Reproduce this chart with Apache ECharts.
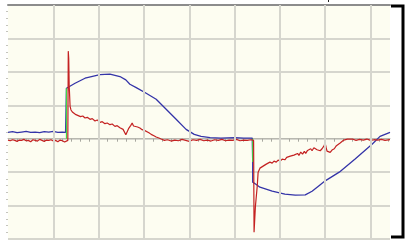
<!DOCTYPE html>
<html>
<head>
<meta charset="utf-8">
<script src="https://cdn.jsdelivr.net/npm/echarts@6/dist/echarts.min.js"></script>
<style>
  html, body { margin: 0; padding: 0; background: #fff; }
  #scope { width: 407px; height: 240px; }
</style>
</head>
<body>
<div id="scope"></div>
<script>
// screen units are divisions: x 0..8.43 div, y -3..4 div
const xRange = [0, 8.43];
const yRange = [-3, 4];
const xDivisions = [1, 2, 3, 4, 5, 6, 7, 8];

// channel A (blue) - [div, div]
const blueData = [
  [0, 0.19], [0.1, 0.21], [0.2, 0.18], [0.3, 0.2], [0.4, 0.22], [0.5, 0.19], [0.6, 0.2],
  [0.7, 0.18], [0.8, 0.21], [0.9, 0.2], [1.0, 0.22], [1.1, 0.19], [1.2, 0.2], [1.27, 0.19],
  [1.29, 1.51], [1.32, 1.51], [1.48, 1.66], [1.70, 1.81], [2.03, 1.92], [2.25, 1.93],
  [2.47, 1.86], [2.60, 1.76], [2.69, 1.63], [2.83, 1.53], [3.05, 1.36], [3.27, 1.18],
  [3.49, 0.88], [3.71, 0.58], [3.93, 0.28], [4.11, 0.13], [4.26, 0.07], [4.46, 0.03],
  [4.7, 0.02], [5.0, 0.03], [5.2, 0.02], [5.39, 0.02], [5.40, -0.70], [5.40, -1.30],
  [5.47, -1.36], [5.56, -1.45], [5.83, -1.57], [6.11, -1.66], [6.34, -1.69], [6.56, -1.68],
  [6.71, -1.57], [6.85, -1.42], [7.0, -1.26], [7.31, -1.0], [7.66, -0.61], [8.04, -0.16],
  [8.21, 0.07], [8.43, 0.19]
];

// channel B (red) - [div, div]
const redData = [
  [0, -0.04], [0.05, -0.06], [0.1, -0.03], [0.15, -0.05], [0.2, -0.08], [0.25, -0.04],
  [0.3, -0.05], [0.35, -0.02], [0.4, -0.06], [0.45, -0.05], [0.5, -0.09], [0.55, -0.03],
  [0.6, -0.05], [0.65, -0.07], [0.7, -0.02], [0.75, -0.05], [0.8, -0.08], [0.85, -0.04],
  [0.9, -0.05], [0.95, -0.03], [1.0, -0.07], [1.05, -0.05], [1.1, -0.09], [1.15, -0.04],
  [1.2, -0.06], [1.25, -0.1], [1.32, -0.05],
  [1.33, 2.62], [1.34, 2.4], [1.35, 1.6], [1.37, 0.97], [1.39, 0.86], [1.42, 0.80],
  [1.46, 0.75], [1.50, 0.72], [1.55, 0.69], [1.60, 0.66], [1.65, 0.68], [1.70, 0.62],
  [1.75, 0.64], [1.81, 0.58], [1.86, 0.6], [1.92, 0.53], [1.97, 0.56], [2.03, 0.49],
  [2.08, 0.51], [2.14, 0.45], [2.19, 0.47], [2.25, 0.42], [2.30, 0.44], [2.36, 0.37],
  [2.41, 0.39], [2.47, 0.33], [2.54, 0.28], [2.60, 0.12], [2.66, 0.30], [2.71, 0.40],
  [2.74, 0.47], [2.77, 0.38], [2.80, 0.43], [2.86, 0.35], [2.91, 0.32], [2.96, 0.27],
  [3.01, 0.25], [3.05, 0.21], [3.11, 0.18], [3.16, 0.13], [3.22, 0.09], [3.27, 0.05],
  [3.33, 0.02], [3.38, -0.01], [3.45, -0.05], [3.52, -0.03], [3.6, -0.07], [3.68, -0.04],
  [3.76, -0.06], [3.84, -0.02], [3.92, -0.05], [4.0, -0.08], [4.08, -0.03], [4.16, -0.05],
  [4.24, -0.02], [4.32, -0.06], [4.4, -0.04], [4.48, -0.07], [4.56, -0.03], [4.64, -0.05],
  [4.72, -0.02], [4.8, -0.06], [4.88, -0.04], [4.96, -0.05], [5.04, -0.02], [5.12, -0.06],
  [5.2, -0.04], [5.28, -0.05], [5.36, -0.03], [5.42, -0.05],
  [5.43, -2.80], [5.46, -2.02], [5.50, -1.42], [5.52, -1.00], [5.56, -0.88], [5.63, -0.82],
  [5.70, -0.76], [5.74, -0.79], [5.78, -0.70], [5.83, -0.73], [5.87, -0.67], [5.92, -0.70],
  [5.96, -0.64], [6.01, -0.67], [6.05, -0.61], [6.11, -0.63], [6.15, -0.56], [6.19, -0.60],
  [6.23, -0.52], [6.27, -0.57], [6.31, -0.49], [6.35, -0.53], [6.39, -0.44], [6.42, -0.50],
  [6.46, -0.40], [6.50, -0.46], [6.54, -0.38], [6.57, -0.44], [6.61, -0.35], [6.64, -0.40],
  [6.68, -0.30], [6.71, -0.36], [6.75, -0.27], [6.78, -0.24], [6.82, -0.33], [6.85, -0.28],
  [6.89, -0.36], [6.93, -0.30], [6.97, -0.22], [7.00, -0.14], [7.02, -0.26], [7.04, -0.37],
  [7.08, -0.32], [7.11, -0.41], [7.15, -0.34], [7.20, -0.30], [7.24, -0.22], [7.28, -0.20],
  [7.33, -0.13], [7.37, -0.09], [7.41, -0.04], [7.45, -0.06], [7.49, -0.01], [7.53, -0.03],
  [7.6, -0.01], [7.68, -0.05], [7.76, -0.02], [7.84, -0.04], [7.92, -0.01], [8.0, -0.05],
  [8.08, -0.03], [8.16, -0.04], [8.24, -0.02], [8.32, -0.05], [8.43, -0.03]
];

// channel C (green) edges
const greenRise = [[1.29, 0], [1.29, 1.51]];
const greenFall = [[5.40, 0], [5.40, -0.70]];

const gridColor = '#d6d6ce';

const composeOptions = () => {
  return {
    animation: false,
    backgroundColor: '#ffffff',
    grid: {
      left: 8, right: 17, top: 5, bottom: 1,
      show: false
    },
    xAxis: [
      {
        type: 'value',
        min: xRange[0],
        max: xRange[1],
        interval: 1,
        axisLine: { onZero: true, lineStyle: { color: '#b8b8b0', width: 1 } },
        axisTick: { show: false },
        minorTick: { show: true, splitNumber: 5, length: 3, lineStyle: { color: '#a8a8a0' } },
        axisLabel: { show: false },
        splitLine: { show: false }
      },
      {
        type: 'value',
        position: 'top',
        min: xRange[0],
        max: xRange[1],
        axisLine: { show: true, onZero: false, lineStyle: { color: '#8c8c8c', width: 2 } },
        axisTick: { show: false },
        axisLabel: { show: false },
        splitLine: { show: false }
      }
    ],
    yAxis: {
      type: 'value',
      min: yRange[0],
      max: yRange[1],
      interval: 1,
      axisLine: { show: false },
      axisTick: { show: false },
      minorTick: { show: true, splitNumber: 5, length: 2, lineStyle: { color: '#c4c4bc' } },
      axisLabel: { show: false },
      splitLine: { show: true, lineStyle: { color: gridColor, width: 2 } }
    },
    graphic: [
      {
        // screen background
        type: 'rect',
        z: -10,
        shape: { x: 8, y: 5, width: 382, height: 234 },
        style: { fill: '#fdfdf1' }
      },
      {
        type: 'polyline',
        shape: { points: [[391, 6], [403, 6], [403, 237], [391, 237]] },
        style: { stroke: '#000', lineWidth: 3, fill: null }
      },
      {
        type: 'text',
        left: 327,
        top: -8,
        style: { text: 'p', fontSize: 11, fontFamily: 'DejaVu Sans', fill: '#222' }
      }
    ],
    series: [
      {
        // vertical division lines
        type: 'line', data: [], z: 1, silent: true,
        markLine: {
          silent: true,
          symbol: 'none',
          label: { show: false },
          lineStyle: { color: gridColor, width: 2, type: 'solid' },
          data: xDivisions.map((v) => ({ xAxis: v }))
        }
      },
      {
        type: 'line', data: blueData, symbol: 'none', z: 2,
        lineStyle: { color: '#3434a8', width: 1.3 }
      },
      {
        type: 'line', data: greenRise, symbol: 'none', z: 3,
        lineStyle: { color: '#44d444', width: 1.2 }
      },
      {
        type: 'line', data: greenFall, symbol: 'none', z: 3,
        lineStyle: { color: '#44d444', width: 1.2 }
      },
      {
        type: 'line', data: redData, symbol: 'none', z: 4,
        lineStyle: { color: '#c42222', width: 1.2 }
      }
    ]
  };
};

const chart = echarts.init(document.getElementById('scope'));
chart.setOption(composeOptions());
</script>
</body>
</html>
